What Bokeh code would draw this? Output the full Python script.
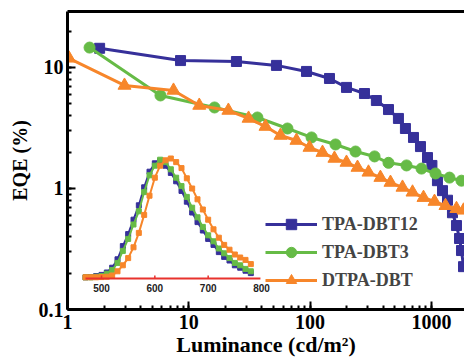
from bokeh.plotting import figure
from bokeh.models import (Range1d, LinearScale, LogAxis, FixedTicker, LogTicker,
                          LogTickFormatter, Legend, LegendItem)
from bokeh.embed import file_html
from bokeh.resources import INLINE

# ---- main EQE vs luminance data ----
lum_dbt12 = [1.84, 8.55, 24.7, 52.8, 93.4, 144.5, 199.6, 280.7, 352, 443, 535, 611,
             712, 813, 929, 1010, 1122, 1235, 1358, 1492, 1610, 1706, 1771, 1840]
eqe_dbt12 = [14.4, 11.4, 11.2, 10.4, 9.27, 8.11, 6.84, 6.09, 5.33, 4.49, 3.79, 3.13,
             2.64, 2.22, 1.80, 1.55, 1.16, 0.96, 0.80, 0.63, 0.494, 0.386, 0.307, 0.226]

lum_dbt3 = [1.52, 5.84, 16.3, 36.8, 65.1, 102.8, 162, 237, 340, 443, 624, 829,
            1081, 1410, 1771]
eqe_dbt3 = [14.6, 5.87, 4.67, 3.86, 3.13, 2.64, 2.31, 2.02, 1.84, 1.63, 1.55, 1.46,
            1.33, 1.23, 1.16]

lum_dtpa = [1.03, 2.95, 7.48, 12.2, 21.2, 31.1, 42.9, 57.0, 77.2, 98.9, 126.6, 158.8,
            199.6, 246, 303, 380, 460, 578, 699, 861, 1061, 1307, 1610, 1840]
eqe_dtpa = [11.9, 7.1, 6.46, 4.85, 4.41, 3.79, 3.25, 2.74, 2.49, 2.18, 1.98, 1.77,
            1.64, 1.49, 1.36, 1.23, 1.12, 1.02, 0.93, 0.84, 0.78, 0.72, 0.68, 0.66]

# ---- inset: normalized EL spectra ----
wl = [470, 480, 490, 500, 510, 520, 530, 540, 550, 560, 570, 580, 590, 600, 610, 620,
      630, 640, 650, 660, 670, 680, 690, 700, 710, 720, 730, 740, 750, 760, 770, 780]
el_dbt12 = [0.01, 0.012, 0.02, 0.03, 0.05, 0.09, 0.16, 0.27, 0.37, 0.49, 0.61, 0.76,
            0.89, 0.96, 0.98, 0.94, 0.88, 0.81, 0.73, 0.64, 0.55, 0.47, 0.40, 0.33,
            0.28, 0.22, 0.18, 0.15, 0.11, 0.09, 0.065, 0.045]
el_dbt3 = [0.01, 0.01, 0.015, 0.02, 0.04, 0.07, 0.13, 0.23, 0.33, 0.45, 0.56, 0.72,
           0.86, 0.94, 0.99, 0.97, 0.91, 0.84, 0.77, 0.68, 0.59, 0.51, 0.43, 0.36,
           0.31, 0.25, 0.21, 0.17, 0.13, 0.11, 0.08, 0.06]
el_dtpa = [0.01, 0.01, 0.01, 0.012, 0.015, 0.025, 0.06, 0.11, 0.17, 0.26, 0.38, 0.53,
           0.69, 0.84, 0.94, 0.985, 1.0, 0.97, 0.92, 0.835, 0.75, 0.66, 0.575, 0.49,
           0.41, 0.34, 0.28, 0.24, 0.20, 0.175, 0.155, 0.12]
inset_ticks = [500, 600, 700, 800]
inset_tick_labels = ["500", "600", "700", "800"]
inset_axis_span = [470, 798]

names = ["TPA-DBT12", "TPA-DBT3", "DTPA-DBT"]
colors = ["#36309a", "#66bb46", "#f7862a"]
markers = ["square", "circle", "triangle"]
msizes = [10, 11, 13]
SERIF = "Liberation Serif"

p = figure(width=464, height=362, x_axis_type="log", y_axis_type="log",
           x_range=Range1d(1, 1875), y_range=Range1d(0.1, 29),
           output_backend="svg", toolbar_location=None,
           min_border_left=67, min_border_right=0, min_border_top=11,
           min_border_bottom=53)
p.grid.visible = False
p.outline_line_color = None
p.background_fill_color = "white"

for ax in (p.xaxis[0], p.yaxis[0]):
    ax.ticker = LogTicker(num_minor_ticks=10)
    ax.formatter = LogTickFormatter(min_exponent=4)
    ax.axis_line_width = 3
    ax.axis_line_color = "black"
    ax.major_tick_in = 8
    ax.major_tick_out = 0
    ax.major_tick_line_width = 2
    ax.minor_tick_in = 4
    ax.minor_tick_out = 0
    ax.minor_tick_line_width = 2
    ax.major_label_text_font = SERIF
    ax.major_label_text_font_style = "bold"
    ax.major_label_text_font_size = "20px"
    ax.axis_label_text_font = SERIF
    ax.axis_label_text_font_style = "bold"
    ax.axis_label_text_color = "black"
    ax.major_label_text_color = "black"

p.xaxis.axis_label = "Luminance (cd/m²)"
p.xaxis.axis_label_text_font_size = "22px"
p.xaxis.major_label_standoff = 5
p.xaxis.axis_label_standoff = 0
p.yaxis.axis_label = "EQE (%)"
p.yaxis.axis_label_text_font_size = "20px"
p.yaxis.major_label_standoff = 4
p.yaxis.axis_label_standoff = 5

top = LogAxis(ticker=FixedTicker(ticks=[]), axis_line_width=3, axis_line_color="black",
              major_tick_out=0, major_tick_in=0, minor_tick_out=0, minor_tick_in=0,
              major_label_standoff=0, major_label_text_font_size="0px")
p.add_layout(top, "above")

# inset coordinate system
p.extra_x_ranges = {"inset": Range1d(436.25, 1180.6)}
p.extra_x_scales = {"inset": LinearScale()}
p.extra_y_ranges = {"inset": Range1d(-0.2583, 2.225)}
p.extra_y_scales = {"inset": LinearScale()}

# main series
series = [(lum_dbt12, eqe_dbt12), (lum_dbt3, eqe_dbt3), (lum_dtpa, eqe_dtpa)]
items = []
for (xs, ys), name, c, m, s in zip(series, names, colors, markers, msizes):
    lr = p.line(xs, ys, line_color=c, line_width=3)
    sr = p.scatter(xs, ys, marker=m, size=s, fill_color=c, line_color=c)
    items.append(LegendItem(label=name, renderers=[lr, sr]))

# inset spectra
for ys, c in zip([el_dbt12, el_dbt3, el_dtpa], colors):
    p.line(wl, ys, line_color=c, line_width=2, x_range_name="inset", y_range_name="inset")
    p.scatter(wl, ys, marker="square", size=5, fill_color=c, line_color=c,
              x_range_name="inset", y_range_name="inset")

# inset axis (red)
p.line(inset_axis_span, [0, 0], line_color="#e8322d", line_width=2,
       x_range_name="inset", y_range_name="inset")
p.segment(x0=inset_ticks[:3], y0=[0] * 3, x1=inset_ticks[:3], y1=[0.025] * 3,
          line_color="#e8322d", line_width=1.5, x_range_name="inset", y_range_name="inset")
p.text(x=inset_ticks, y=[-0.075] * len(inset_ticks), text=inset_tick_labels,
       text_font={"value": "Liberation Sans"}, text_font_style="bold",
       text_font_size="10px", text_align="center", text_baseline="middle",
       text_color="#222222", x_range_name="inset", y_range_name="inset")

legend = Legend(items=items, location=(198, 16), glyph_width=52, glyph_height=26,
                label_height=26, spacing=2, padding=0, margin=0, label_standoff=5,
                label_text_font=SERIF, label_text_font_style="bold",
                label_text_font_size="18px", border_line_alpha=0,
                background_fill_alpha=0)
p.add_layout(legend)

open("out.html", "w").write(file_html(p, INLINE))
